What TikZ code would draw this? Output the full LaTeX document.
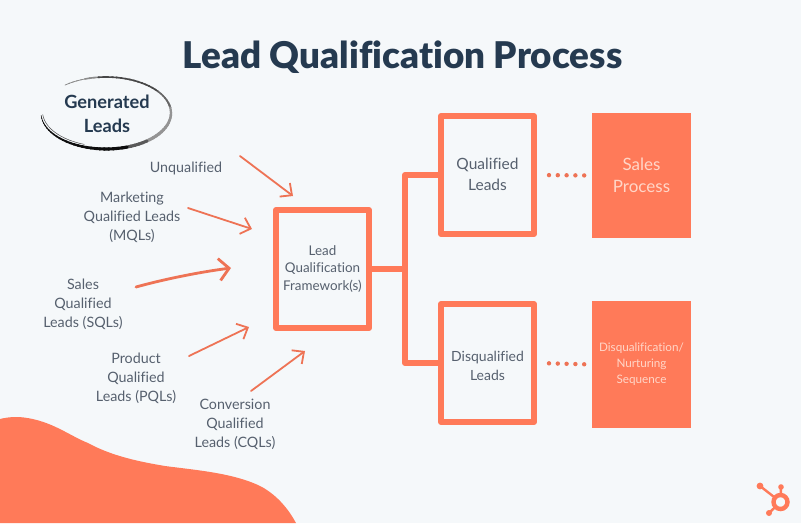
\documentclass[tikz,border=0pt]{standalone}
\usepackage{fontspec}
\setmainfont{Lato}[Ligatures=NoCommon]
\newfontfamily\heavyfont{Lato Black}[Ligatures=NoCommon]
\usetikzlibrary{arrows.meta}
\definecolor{coral}{HTML}{FF7A59}
\definecolor{paper}{HTML}{F5F8FA}
\definecolor{navy}{HTML}{253A50}
\definecolor{slate}{HTML}{56606E}
\definecolor{peach}{HTML}{FFD6C8}
\definecolor{arrowred}{HTML}{EE7355}
\tikzset{
  every node/.style={inner sep=0pt,align=center},
  titletext/.style={font=\fontsize{36.8}{40}\selectfont\heavyfont,text=navy},
  headtext/.style={font=\fontsize{18.2}{24}\selectfont\bfseries,text=navy},
  lbl/.style={font=\fontsize{14.3}{19}\selectfont,text=slate},
  outlinebox/.style={draw=coral,line width=6pt,line join=round,minimum width=93pt,minimum height=118pt,text=slate},
  solidbox/.style={fill=coral,minimum width=99pt},
  link/.style={draw=coral,line width=6pt,line join=round},
  dotrow/.style={draw=arrowred,line width=4.4pt,line cap=round,dash pattern=on 0pt off 8.8pt,shorten <=12pt,shorten >=7.5pt},
  inarrow/.style={draw=arrowred,line width=1.8pt,line cap=round,-{Straight Barb[length=9pt,width=17pt]}},
  inarrowbold/.style={draw=arrowred,line width=2.8pt,line cap=round,-{Straight Barb[length=10pt,width=22pt]}},
  brush/.style={line cap=round},
  logo/.style={draw=coral,line width=2.4pt},
  logodot/.style={fill=coral}
}
\begin{document}
\begin{tikzpicture}[x=1pt,y=-1pt]
\useasboundingbox (0,0) rectangle (801,523);
\fill[paper] (0,0) rectangle (801,523);
% blob
\fill[coral] (0,419) .. controls (8,417) and (16,416.5) .. (24,417.5)
  .. controls (52,421) and (70,436) .. (88,443)
  .. controls (110,455) and (135,461) .. (165,466)
  .. controls (195,470) and (235,473) .. (262,487)
  .. controls (278,496) and (289,510) .. (296,523)
  -- (0,523) -- cycle;
% title
\node[titletext] (title) at (402.5,57.5) {Lead Qualification Process};
% brush ellipse
\foreach \t in {-129,-125,...,172}{
  \pgfmathsetmacro{\tb}{\t+5}
  \pgfmathsetmacro{\lw}{\t<-110 ? 0.8 : (\t<-30 ? 1.6 : (\t<30 ? 1.6+(\t+30)*0.025 : (\t<90 ? 3.1 : max(0.6,3.1-(\t-90)*0.032))))}
  \pgfmathsetmacro{\gr}{\t<-100 ? 45 : (\t<-40 ? 72 : (\t<-10 ? 60 : (\t<50 ? 42 : (\t<70 ? 65 : 95))))}
  \draw[brush,line width=\lw pt,black!\gr!white] ({106+65*cos(\t)},{113+36*sin(\t)}) -- ({106+65*cos(\tb)},{113+36*sin(\tb)});
}
\foreach \t in {110,115,...,170}{
  \pgfmathsetmacro{\tb}{\t+5}
  \draw[brush,line width=.5pt,black!70!white] ({106+63.5*cos(\t)},{111.5+35*sin(\t)}) -- ({106+63.5*cos(\tb)},{111.5+35*sin(\tb)});
}
\node[headtext] (gen) at (107,113.5) {Generated\\Leads};
% labels
\node[lbl] (unq) at (186,168) {Unqualified};
\node[lbl] (mql) at (132,217) {Marketing\\Qualified Leads\\(MQLs)};
\node[lbl] (sql) at (83,304) {Sales\\Qualified\\Leads (SQLs)};
\node[lbl] (pql) at (136,378) {Product\\Qualified\\Leads (PQLs)};
\node[lbl] (cql) at (235,424) {Conversion\\Qualified\\Leads (CQLs)};
% boxes
\node[outlinebox,font=\fontsize{13.4}{17.5}\selectfont] (fw) at (322.5,269) {Lead\\Qualification\\Framework(s)};
\node[outlinebox,font=\fontsize{15.5}{21}\selectfont] (ql) at (487.5,175) {Qualified\\Leads\rule[-1pt]{0pt}{1pt}};
\node[outlinebox,font=\fontsize{14}{19}\selectfont] (dl) at (487.5,363) {\rule{0pt}{17pt}Disqualified\\Leads};
\node[solidbox,minimum height=125pt,text=peach,font=\fontsize{17}{22}\selectfont] (sp) at (641.5,175.5) {Sales\\Process};
\node[solidbox,minimum height=127pt,text=peach,font=\fontsize{11.7}{16}\selectfont] (ds) at (641.5,364.5) {Disqualification/\\Nurturing\\Sequence};
% tree connector
\coordinate (trunk) at (405,269);
\draw[link] (fw.east) -- (trunk);
\draw[link] (ql.west) -| (trunk);
\draw[link] (dl.west) -| (trunk);
% dots
\draw[dotrow] (ql.east) -- (sp.west);
\draw[dotrow] (dl.east) -- (ds.west);
% arrows
\coordinate (a1s) at (240,156); \coordinate (a1e) at (293,196);
\coordinate (a2s) at (188,208); \coordinate (a2e) at (252,229);
\coordinate (a3s) at (136,287); \coordinate (a3e) at (231,268);
\coordinate (a4s) at (189,356); \coordinate (a4e) at (249,327);
\coordinate (a5s) at (251,391); \coordinate (a5e) at (305,351);
\draw[inarrow] (a1s) -- (a1e);
\draw[inarrow] (a2s) -- (a2e);
\draw[inarrowbold] (a3s) .. controls (165,279) and (200,272) .. (a3e);
\draw[inarrow] (a4s) -- (a4e);
\draw[inarrow] (a5s) -- (a5e);
% logo
\coordinate (hub) at (780.5,502);
\coordinate (armA) at (760,486);
\coordinate (armB) at (781,487);
\coordinate (armC) at (769,513);
\draw[logo] (hub) -- (armA);
\draw[logo] (hub) -- (armB);
\draw[logo] (hub) -- (armC);
\fill[logodot] (armA) circle (3.4);
\fill[logodot] (armB) circle (2.8);
\fill[logodot] (armC) circle (3);
\draw[coral,line width=4.4pt,fill=paper] (hub) circle (7);
\end{tikzpicture}
\end{document}
